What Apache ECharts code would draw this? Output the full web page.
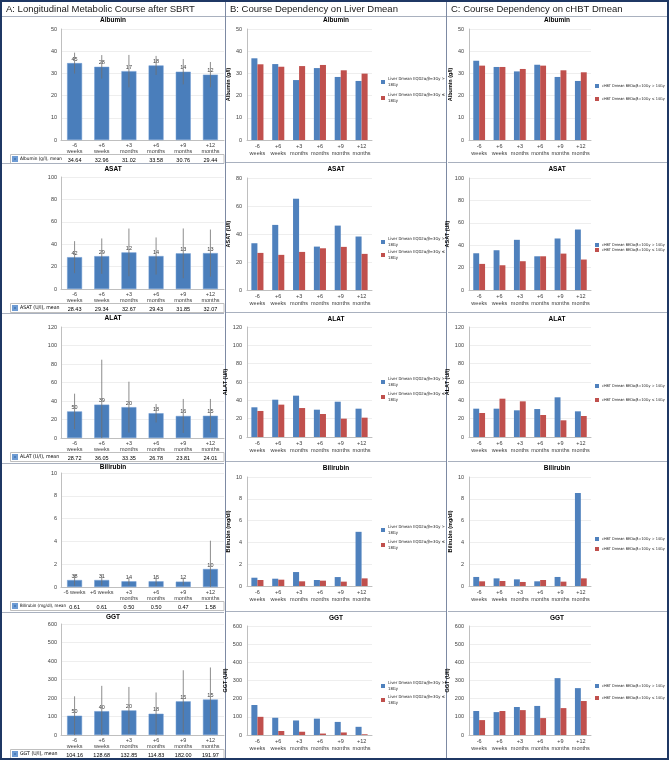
<!DOCTYPE html>
<html><head><meta charset="utf-8">
<script src="https://cdn.jsdelivr.net/npm/echarts@6/dist/echarts.min.js"></script>
<style>html,body{margin:0;padding:0;background:#fff}#c{width:669px;height:760px}</style>
</head><body><div id="c"></div>
<script>
// ---------- data ----------
const categories = ['-6 weeks', '+6 weeks', '+3 months', '+6 months', '+9 months', '+12 months'];

// Column A: longitudinal means, SD (error bars) and n
const albuminMean = [34.64, 32.96, 31.02, 33.58, 30.76, 29.44];
const albuminSD   = [4.7, 5.3, 7.3, 4.3, 5.7, 5.7];
const albuminN    = [45, 28, 17, 18, 14, 12];
const asatMean = [28.43, 29.34, 32.67, 29.43, 31.85, 32.07];
const asatSD   = [14.3, 15.8, 21.3, 16.6, 22.2, 21.0];
const asatN    = [42, 29, 12, 14, 13, 13];
const alatMean = [28.72, 36.05, 33.35, 26.78, 23.81, 24.01];
const alatSD   = [19.2, 48.6, 27.5, 10.0, 18.4, 18.2];
const alatN    = [50, 39, 20, 18, 16, 15];
const biliMean = [0.61, 0.61, 0.50, 0.50, 0.47, 1.58];
const biliSD   = [0.5, 0.5, 0.35, 0.4, 0.35, 2.48];
const biliN    = [38, 31, 14, 15, 12, 10];
const ggtMean = [104.16, 128.68, 132.85, 114.83, 182.00, 191.97];
const ggtSD   = [105, 137, 127, 115, 168, 173];
const ggtN    = [50, 40, 20, 18, 15, 15];

// Column B: liver Dmean groups
const liverHighName = 'Liver Dmean EQD2α/β=3Gy > 18Gy';
const liverLowName  = 'Liver Dmean EQD2α/β=3Gy ≤ 18Gy';
const albuminLiverHigh = [36.8, 34.2, 27.0, 32.4, 28.4, 26.6];
const albuminLiverLow  = [34.1, 33.0, 33.3, 33.8, 31.4, 29.9];
const asatLiverHigh = [33.4, 46.5, 65.2, 31.0, 46.0, 38.2];
const asatLiverLow  = [26.5, 25.1, 27.2, 29.8, 30.8, 25.8];
const alatLiverHigh = [32.4, 40.7, 45.1, 29.8, 38.5, 30.9];
const alatLiverLow  = [28.4, 35.3, 31.6, 25.1, 20.0, 21.1];
const biliLiverHigh = [0.76, 0.67, 1.28, 0.55, 0.82, 4.97];
const biliLiverLow  = [0.55, 0.58, 0.43, 0.49, 0.40, 0.70];
const ggtLiverHigh = [165, 95, 80, 90, 72, 45];
const ggtLiverLow  = [100, 22, 18, 8, 14, 4];

// Column C: cHBT Dmean groups
const hbtHighName = 'cHBT Dmean BEDα/β=10Gy > 14Gy';
const hbtLowName  = 'cHBT Dmean BEDα/β=10Gy ≤ 14Gy';
const albuminHbtHigh = [35.7, 32.9, 30.9, 33.9, 28.4, 26.6];
const albuminHbtLow  = [33.5, 32.9, 32.0, 33.5, 31.4, 30.5];
const asatHbtHigh = [32.8, 35.5, 44.8, 30.1, 46.0, 54.0];
const asatHbtLow  = [23.3, 22.1, 25.7, 30.1, 32.5, 27.2];
const alatHbtHigh = [30.9, 30.9, 29.1, 30.5, 43.3, 28.0];
const alatHbtLow  = [26.2, 41.8, 38.9, 24.0, 18.2, 22.9];
const biliHbtHigh = [0.83, 0.70, 0.61, 0.43, 0.83, 8.53];
const biliHbtLow  = [0.43, 0.46, 0.37, 0.55, 0.40, 0.70];
const ggtHbtHigh = [132, 126, 154, 160, 313, 258];
const ggtHbtLow  = [82, 132, 137, 93, 148, 187];

const panelTitles = ['Albumin', 'ASAT', 'ALAT', 'Bilirubin', 'GGT'];
const yNames = ['Albumin (g/l)', 'ASAT (U/l)', 'ALAT (U/l)', 'Bilirubin (mg/dl)', 'GGT (U/l)'];
const aNames = ['Albumin (g/l), mean', 'ASAT (U/l), mean', 'ALAT (U/l), mean', 'Bilirubin (mg/dl), mean', 'GGT (U/l), mean'];
const maxA = [50, 100, 120, 10, 600];
const maxB = [50, 80, 120, 10, 600];
const maxC = [50, 100, 120, 10, 600];
const steps = [10, 20, 20, 2, 100];
const headers = ['A: Longitudinal Metabolic Course after SBRT', 'B: Course Dependency on Liver Dmean', 'C: Course Dependency on cHBT Dmean'];

const colA = [
  {mean: albuminMean, sd: albuminSD, n: albuminN},
  {mean: asatMean, sd: asatSD, n: asatN},
  {mean: alatMean, sd: alatSD, n: alatN},
  {mean: biliMean, sd: biliSD, n: biliN},
  {mean: ggtMean, sd: ggtSD, n: ggtN}
];
const colB = [[albuminLiverHigh, albuminLiverLow], [asatLiverHigh, asatLiverLow], [alatLiverHigh, alatLiverLow], [biliLiverHigh, biliLiverLow], [ggtLiverHigh, ggtLiverLow]];
const colC = [[albuminHbtHigh, albuminHbtLow], [asatHbtHigh, asatHbtLow], [alatHbtHigh, alatHbtLow], [biliHbtHigh, biliHbtLow], [ggtHbtHigh, ggtHbtLow]];

// ---------- layout ----------
const FONT = '"Liberation Sans", Arial, sans-serif';
const NARROW = '"Liberation Sans Narrow", "DejaVu Sans Condensed", "Liberation Sans", Arial, sans-serif';
const rowsA = [[29, 140], [177, 289], [327, 438], [473, 587], [624, 735]];
const rowsBC = [[29, 140], [178, 290], [327, 437], [477, 586], [626, 735]];
const titleYA = [20, 169, 318, 467, 617];
const titleYBC = [20, 169, 319, 468, 618];
const sepA = [163, 313, 463, 612];
const sepBC = [162, 312, 461, 611];
const legB = [[82, 16], [242, 13], [382, 15], [530, 15], [686, 14]];
const legC = [[86, 13], [245, 5], [386, 14], [539, 10], [686, 12]];

// fit a font size so a text takes a target width (layout only)
const mctx = document.createElement('canvas').getContext('2d');
function fitSize(text, family, target, maxSize) {
  mctx.font = '10px ' + family;
  const w = mctx.measureText(text).width;
  return Math.min(maxSize, 10 * target / w);
}
const legBSize = fitSize('Liver Dmean EQD2α/β=3Gy >', NARROW, 57, 5.5);
const legCSize = fitSize(hbtHighName, NARROW, 63, 5.5);

const AX = '#bfbfbf', SPL = '#e2e2e2', TXT = '#404040';
const BLUE = '#4f81bd', RED = '#c0504d', ABLUE = '#4a7ebb';
const lbl = {fontFamily: FONT, fontSize: 5.5, color: TXT};

function errRender(params, api) {
  const x = api.value(0);
  const p1 = api.coord([x, api.value(1)]);
  const p2 = api.coord([x, api.value(2)]);
  return {type: 'line', shape: {x1: p1[0], y1: p1[1], x2: p2[0], y2: p2[1]},
          style: {stroke: '#707070', lineWidth: 0.8}};
}

const grid = [], xAxis = [], yAxis = [], series = [], legend = [], graphic = [];

function wrapLabel(v) { return v.replace(' ', '\n'); }

for (let r = 0; r < 5; r++) {
  // ----- Column A -----
  let gi = grid.length;
  grid.push({left: 61, width: 163, top: rowsA[r][0], height: rowsA[r][1] - rowsA[r][0]});
  let xi = xAxis.length;
  xAxis.push({type: 'category', gridIndex: gi, data: categories,
    axisLine: {lineStyle: {color: AX}}, axisTick: {length: 23, lineStyle: {color: AX}},
    axisLabel: Object.assign({}, lbl, {margin: 2, lineHeight: 6, interval: 0,
      formatter: (v, i) => (r === 3 && i < 2) ? v : wrapLabel(v)})});
  xAxis.push({type: 'category', gridIndex: gi, position: 'bottom', offset: 14,
    data: colA[r].mean.map(v => v.toFixed(2)),
    axisLine: {show: false}, axisTick: {show: false},
    axisLabel: Object.assign({}, lbl, {color: '#000', margin: 3, interval: 0})});
  let yi = yAxis.length;
  yAxis.push({type: 'value', gridIndex: gi, min: 0, max: maxA[r], interval: steps[r],
    axisLine: {show: true, lineStyle: {color: AX}}, axisTick: {show: false},
    splitLine: {lineStyle: {color: SPL, width: 0.6}},
    axisLabel: Object.assign({}, lbl, {margin: 4})});
  const nArr = colA[r].n;
  series.push({type: 'bar', name: aNames[r], xAxisIndex: xi, yAxisIndex: yi, data: colA[r].mean,
    barWidth: '55%', itemStyle: {color: ABLUE, borderColor: '#6e9bd3', borderWidth: 0.5},
    label: Object.assign({show: true, position: 'top', distance: 1}, lbl, {formatter: p => nArr[p.dataIndex]})});
  series.push({type: 'custom', name: panelTitles[r] + ' SD', xAxisIndex: xi, yAxisIndex: yi,
    data: colA[r].mean.map((v, i) => [i, Math.max(0, v - colA[r].sd[i]), v + colA[r].sd[i]]),
    encode: {x: 0, y: [1, 2]}, renderItem: errRender, z: 5});
  const aSize = fitSize(aNames[r], NARROW, r === 3 ? 46 : 42, 5.2);
  legend.push({data: [aNames[r]], left: 12, top: rowsA[r][1] + 16, padding: 0, itemGap: 0,
    itemWidth: 4, itemHeight: 4, icon: 'rect', selectedMode: false,
    textStyle: {fontFamily: NARROW, fontSize: aSize, color: '#000', padding: [0, 0, 0, -2]}});
  graphic.push({type: 'rect', silent: true, shape: {x: 10.5, y: rowsA[r][1] + 14.5, width: 213.5, height: 9},
    style: {fill: 'none', stroke: AX, lineWidth: 1}});
  graphic.push({type: 'text', silent: true, x: 113, y: titleYA[r],
    style: {text: panelTitles[r], fill: '#000', font: 'bold 6.5px ' + FONT, align: 'center', verticalAlign: 'middle', textAlign: 'center', textVerticalAlign: 'middle'}});

  // ----- Columns B and C -----
  [['B', 247, 125, colB, maxB, liverHighName, liverLowName, legB, 381, 336],
   ['C', 469, 122, colC, maxC, hbtHighName, hbtLowName, legC, 595, 557]].forEach(cfg => {
    const [key, left, width, col, maxes, hiName, loName, leg, legX, cx] = cfg;
    const g = grid.length;
    grid.push({left: left, width: width, top: rowsBC[r][0], height: rowsBC[r][1] - rowsBC[r][0]});
    const x2 = xAxis.length;
    xAxis.push({type: 'category', gridIndex: g, data: categories,
      axisLine: {lineStyle: {color: AX}}, axisTick: {length: 3, lineStyle: {color: AX}},
      axisLabel: Object.assign({}, lbl, {margin: 3, lineHeight: 7, interval: 0, formatter: v => wrapLabel(v)})});
    const y2 = yAxis.length;
    yAxis.push({type: 'value', gridIndex: g, min: 0, max: maxes[r], interval: steps[r],
      name: yNames[r], nameLocation: 'middle', nameGap: 15,
      nameTextStyle: {fontFamily: FONT, fontSize: 5.5, fontWeight: 'bold', color: '#000'},
      axisLine: {show: true, lineStyle: {color: AX}}, axisTick: {show: false},
      splitLine: {lineStyle: {color: SPL, width: 0.6}},
      axisLabel: Object.assign({}, lbl, {margin: 5})});
    series.push({type: 'bar', name: hiName, xAxisIndex: x2, yAxisIndex: y2, data: col[r][0],
      barGap: '0%', barCategoryGap: '42%', itemStyle: {color: BLUE}});
    series.push({type: 'bar', name: loName, xAxisIndex: x2, yAxisIndex: y2, data: col[r][1],
      barGap: '0%', barCategoryGap: '42%', itemStyle: {color: RED}});
    if (key === 'B') {
      legend.push({data: [hiName, loName], orient: 'vertical', left: legX, top: leg[r][0] - 6,
        itemGap: Math.max(0, leg[r][1] - 12), padding: 0, itemWidth: 4, itemHeight: 4, icon: 'rect',
        selectedMode: false, formatter: n => n.replace(/ (\S+)$/, '\n$1'),
        textStyle: {fontFamily: NARROW, fontSize: legBSize, lineHeight: 6, color: '#222', padding: [0, 0, 0, -2]}});
    } else {
      legend.push({data: [hiName, loName], orient: 'vertical', left: legX, top: leg[r][0] - 2.5,
        itemGap: Math.max(0, leg[r][1] - 5), padding: 0, itemWidth: 4, itemHeight: 4, icon: 'rect',
        selectedMode: false,
        textStyle: {fontFamily: NARROW, fontSize: legCSize, lineHeight: 5, color: '#222', padding: [0, 0, 0, -2]}});
    }
    graphic.push({type: 'text', silent: true, x: cx, y: titleYBC[r],
      style: {text: panelTitles[r], fill: '#000', font: 'bold 6.5px ' + FONT, align: 'center', verticalAlign: 'middle', textAlign: 'center', textVerticalAlign: 'middle'}});
  });
}

// frame, separators, headers
const SEP = '#a9b1bf';
sepA.forEach(y => graphic.push({type: 'line', silent: true, shape: {x1: 2, y1: y + 0.5, x2: 224, y2: y + 0.5}, style: {stroke: SEP, lineWidth: 1}}));
sepBC.forEach(y => {
  graphic.push({type: 'line', silent: true, shape: {x1: 226, y1: y + 0.5, x2: 446, y2: y + 0.5}, style: {stroke: SEP, lineWidth: 1}});
  graphic.push({type: 'line', silent: true, shape: {x1: 448, y1: y + 0.5, x2: 667, y2: y + 0.5}, style: {stroke: SEP, lineWidth: 1}});
});
graphic.push({type: 'line', silent: true, shape: {x1: 2, y1: 16.5, x2: 667, y2: 16.5}, style: {stroke: SEP, lineWidth: 1}});
graphic.push({type: 'line', silent: true, shape: {x1: 225.5, y1: 1, x2: 225.5, y2: 759}, style: {stroke: '#7d8aa3', lineWidth: 1}});
graphic.push({type: 'line', silent: true, shape: {x1: 446.5, y1: 1, x2: 446.5, y2: 759}, style: {stroke: '#7d8aa3', lineWidth: 1}});
graphic.push({type: 'rect', silent: true, shape: {x: 1, y: 1, width: 667, height: 758}, style: {fill: 'none', stroke: '#1f3864', lineWidth: 2}});
[6, 230, 451].forEach((x, i) => graphic.push({type: 'text', silent: true, x: x, y: 9,
  style: {text: headers[i], fill: '#1a1a1a', font: '9.5px ' + FONT, align: 'left', verticalAlign: 'middle', textAlign: 'left', textVerticalAlign: 'middle'}}));

const chart = echarts.init(document.getElementById('c'), null, {renderer: 'canvas'});
chart.setOption({
  animation: false,
  backgroundColor: '#fff',
  textStyle: {fontFamily: FONT},
  grid: grid, xAxis: xAxis, yAxis: yAxis, series: series, legend: legend, graphic: graphic
});
</script></body></html>
